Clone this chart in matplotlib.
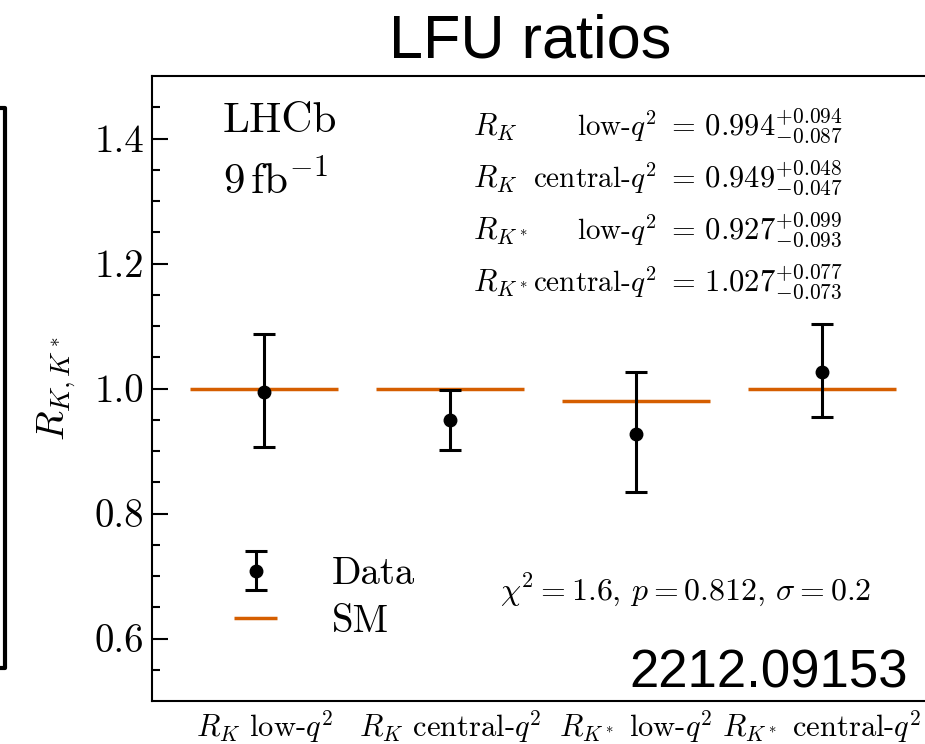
import matplotlib
matplotlib.use("Agg")
import matplotlib.pyplot as plt
from matplotlib.lines import Line2D

plt.rcParams["font.family"] = "serif"
plt.rcParams["font.serif"] = ["cmr10"]
plt.rcParams["mathtext.fontset"] = "cm"
plt.rcParams["axes.formatter.use_mathtext"] = True
plt.rcParams["axes.unicode_minus"] = False

# LHCb lepton-flavour-universality ratios (arXiv:2212.09153)
labels = [r"$R_K$ low-$q^2$", r"$R_K$ central-$q^2$",
          r"$R_{K^*}$ low-$q^2$", r"$R_{K^*}$ central-$q^2$"]
measured = [0.994, 0.949, 0.927, 1.027]
err_up = [0.094, 0.048, 0.099, 0.077]
err_down = [0.087, 0.047, 0.093, 0.073]
sm_pred = [1.0, 1.0, 0.98, 1.0]

row_names = [r"$R_K$", r"$R_K$", r"$R_{K^*}$", r"$R_{K^*}$"]
row_bins = [r"low-$q^2$", r"central-$q^2$", r"low-$q^2$", r"central-$q^2$"]

sm_color = "#d55e00"

fig = plt.figure(figsize=(9.25, 7.44), dpi=100)
W, H = 925, 744
ax = fig.add_axes([152.4 / W, 43 / H, 781.2 / W, 625 / H])

x = list(range(len(labels)))
half = 0.4

sm = ax.hlines(sm_pred, [i - half for i in x], [i + half for i in x],
               color=sm_color, lw=2.5, label="SM", zorder=2)
data = ax.errorbar(x, measured, yerr=[err_down, err_up], fmt="o", color="black",
                   ms=9, elinewidth=2.2, capsize=8, capthick=2.2, label="Data",
                   zorder=3)

ax.set_xlim(-0.6, 3.6)
ax.set_ylim(0.5, 1.5)
ax.set_xticks(x)
ax.set_xticklabels(labels, fontsize=22)
ax.set_yticks([0.6, 0.8, 1.0, 1.2, 1.4])
ax.set_yticks([0.55 + 0.05 * k for k in range(19)], minor=True)
ax.tick_params(axis="y", which="major", direction="in", length=11.5, width=1.5,
               labelsize=28, pad=6)
ax.tick_params(axis="y", which="minor", direction="in", length=6, width=1.5)
ax.tick_params(axis="x", which="both", length=0, pad=5)
ax.yaxis.set_major_formatter(matplotlib.ticker.FormatStrFormatter("%.1f"))
for s in ax.spines.values():
    s.set_linewidth(1.5)
ax.spines["right"].set_visible(False)

ax.set_ylabel(r"$R_{K,K^*}$", fontsize=28, labelpad=12)

ax.text(0.09, 0.91, "LHCb", transform=ax.transAxes, fontsize=31)
ax.text(0.09, 0.812, r"9$\,$fb$^{\mathregular{-1}}$", transform=ax.transAxes,
        fontsize=31)

# table of measured values
for k in range(4):
    yb = 1 - (136 + 52 * k) / H
    ax.text(473 / W, yb, row_names[k], transform=fig.transFigure,
            fontsize=22, va="baseline")
    ax.text(656 / W, yb, row_bins[k], transform=fig.transFigure,
            fontsize=21, va="baseline", ha="right")
    ax.text(666 / W, yb,
            r"$=\,%.3f^{+%.3f}_{-%.3f}$" % (measured[k], err_up[k], err_down[k]),
            transform=fig.transFigure, fontsize=22, va="baseline")

ax.text(500 / W, 1 - 600 / H, r"$\chi^2 = 1.6$, $p = 0.812$, $\sigma = 0.2$",
        transform=fig.transFigure, fontsize=23, va="baseline")

ax.legend([data, sm], ["Data", "SM"], loc="lower left",
          bbox_to_anchor=(0.06, 0.042), frameon=False, fontsize=28,
          handlelength=1.1, handletextpad=1.4, labelspacing=0.3)

fig.text(530 / W, 1 - 57 / H, "LFU ratios", fontsize=44, ha="center",
         va="baseline", family="Liberation Sans")
fig.text(908 / W, 1 - 688 / H, "2212.09153", fontsize=38, ha="right",
         va="baseline", family="Liberation Sans")

# bracket on the left edge
fig.add_artist(Line2D([0, 5 / W, 5 / W, 0],
                      [1 - 108 / H, 1 - 108 / H, 1 - 668 / H, 1 - 668 / H],
                      transform=fig.transFigure, color="black", lw=3))

fig.savefig("out.png", dpi=100)
